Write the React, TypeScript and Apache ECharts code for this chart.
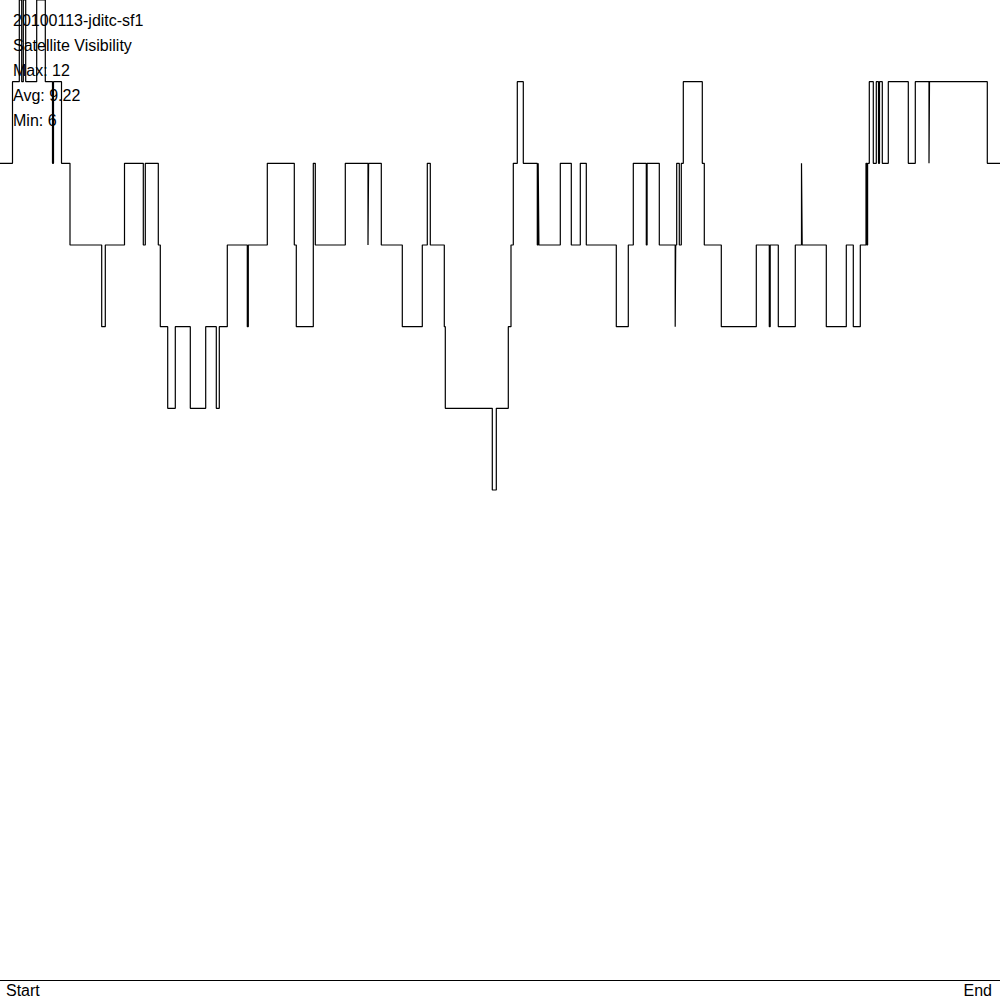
import React, { useEffect, useRef } from "react";
import * as echarts from "echarts";

// Time position (0 = Start, 1000 = End) at which each step begins
const stepStarts: number[] = [
  0, 12.5, 19.3, 21.7, 23.3, 25.7, 36.7, 45.3, 52.5, 53.5, 61.5, 70,
  101.7, 105.3, 124.5, 143.3, 145.3, 158.3, 160.3, 167.7, 175.3, 190.3, 205.7, 216.3,
  219.3, 227.3, 247.3, 248.3, 267.3, 294.3, 296.3, 313.3, 315.3, 345.3, 368.0, 368.6,
  381.3, 402.3, 422.3, 427.3, 430.3, 444.3, 445.3, 492.3, 496.3, 508.3, 511, 513.3,
  517.3, 523.3, 537.3, 538.2, 538.9, 560.3, 571.3, 580.3, 586.3, 616.3, 628.3, 633.3,
  646.3, 647.1, 659.3, 675.2, 675.7, 676.7, 679.3, 681.3, 683.3, 702.3, 704.3, 721.3,
  756.3, 769.3, 770.2, 778.3, 795.3, 801.5, 802.2, 826.3, 846.3, 853.3, 860.3, 866,
  866.8, 867.6, 869.3, 873.3, 876.3, 878.5, 879.5, 882.3, 888.3, 908.3, 915.3, 929.0,
  929.5, 987.3, 1000,
];

// Number of visible satellites during each step
const satellites: number[] = [
  10, 11, 12, 11, 12, 11, 12, 11, 10, 11, 10, 9,
  8, 9, 10, 9, 10, 9, 8, 7, 8, 7, 8, 7,
  8, 9, 8, 9, 10, 9, 8, 10, 9, 10, 9, 10,
  9, 8, 9, 10, 9, 8, 7, 6, 7, 8, 9, 10,
  11, 10, 9, 10, 9, 10, 9, 10, 9, 8, 9, 10,
  9, 10, 9, 8, 9, 10, 9, 10, 11, 10, 9, 8,
  9, 8, 9, 8, 9, 10, 9, 8, 9, 8, 9, 10,
  9, 10, 11, 10, 11, 10, 11, 10, 11, 10, 11, 10,
  11, 10, 10,
];

const infoLines: string[] = [
  "20100113-jditc-sf1",
  "Satellite Visibility",
  "Max: 12",
  "Avg: 9.22",
  "Min: 6",
];

const axisLabels: string[] = ["Start", "End"];

const FONT = "'Liberation Sans', Arial, sans-serif";

export default function App() {
  const ref = useRef<HTMLDivElement>(null);

  useEffect(() => {
    if (!ref.current) return;
    const chart = echarts.init(ref.current, undefined, { renderer: "svg" });
    const data = stepStarts.map((x, i) => [x, satellites[i]]);
    chart.setOption({
      animation: false,
      backgroundColor: "#ffffff",
      grid: { left: 0, right: 0, top: 0, bottom: 20 },
      xAxis: {
        type: "value",
        min: 0,
        max: 1000,
        axisLine: { show: true, lineStyle: { color: "#000", width: 1 } },
        axisTick: { show: false },
        axisLabel: { show: false },
        splitLine: { show: false },
      },
      yAxis: {
        type: "value",
        min: 0,
        max: 12,
        show: false,
        splitLine: { show: false },
      },
      series: [
        {
          type: "line",
          step: "end",
          data,
          showSymbol: false,
          clip: false,
          lineStyle: { color: "#000", width: 1.2 },
          z: 1,
        },
      ],
      graphic: [
        ...infoLines.map((t, i) => ({
          type: "text",
          left: 13,
          top: 20 + i * 25 - 8,
          z: 10,
          style: { text: t, fill: "#000", font: `16px ${FONT}` },
        })),
        {
          type: "text",
          left: 6,
          top: 982,
          style: { text: axisLabels[0], fill: "#000", font: `16px ${FONT}` },
        },
        {
          type: "text",
          right: 8,
          top: 982,
          style: { text: axisLabels[1], fill: "#000", font: `16px ${FONT}` },
        },
      ],
    });
    return () => chart.dispose();
  }, []);

  return (
    <div
      ref={ref}
      style={{ position: "fixed", left: 0, top: 0, width: 1000, height: 1000 }}
    />
  );
}
